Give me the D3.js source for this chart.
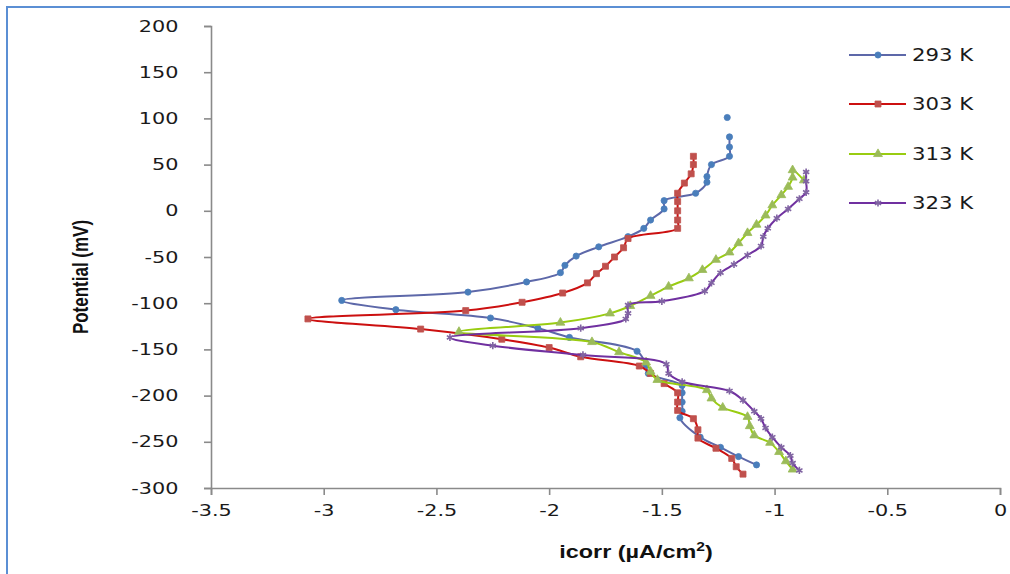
<!DOCTYPE html>
<html>
<head>
<meta charset="utf-8">
<script src="https://cdn.jsdelivr.net/npm/d3@7"></script>
<style>
  body { margin: 0; background: #fff; }
  svg { display: block; }
</style>
</head>
<body>
<div class="chart"></div>
<script>

// icorr (log, uA/cm2) vs potential (mV)
// null = gap in the line
var s293 = [
  [-1.21, 101], null,
  [-1.20, 80], [-1.20, 69], [-1.20, 59], [-1.28, 50], [-1.30, 37], [-1.30, 31],
  [-1.35, 19], [-1.49, 11], [-1.49, 2], [-1.55, -10], [-1.58, -19], [-1.65, -28],
  [-1.78, -39], [-1.88, -49], [-1.93, -59], [-1.95, -67], [-2.10, -77], [-2.36, -88],
  [-2.92, -97], [-2.68, -107], [-2.26, -116], [-2.05, -127], [-1.91, -137],
  [-1.61, -152], [-1.57, -167], [-1.56, -176], [-1.41, -189], [-1.41, -197],
  [-1.41, -207], [-1.41, -217], [-1.42, -224], [-1.33, -245], [-1.24, -256],
  [-1.16, -266], [-1.08, -275]
];

var s303 = [
  [-1.36, 59], [-1.36, 50], [-1.37, 40], [-1.40, 30], [-1.43, 19], [-1.43, 10],
  [-1.43, 0], [-1.43, -10], [-1.43, -19], [-1.65, -30], [-1.67, -40], [-1.71, -50],
  [-1.75, -60], [-1.79, -68], [-1.83, -78], [-1.94, -89], [-2.12, -99], [-2.37, -108],
  [-3.07, -117], [-2.57, -128], [-2.21, -139], [-2.00, -148], [-1.86, -158],
  [-1.60, -168], [-1.55, -176], [-1.49, -187], [-1.43, -197], [-1.43, -207],
  [-1.43, -216], [-1.36, -225], [-1.34, -237], [-1.34, -246], [-1.26, -257],
  [-1.19, -268], [-1.17, -277], [-1.14, -285]
];

var s313 = [
  [-0.87, 33], [-0.92, 44], [-0.92, 36], [-0.94, 26], [-0.97, 17], [-1.01, 6],
  [-1.04, -5], [-1.08, -15], [-1.12, -24], [-1.16, -35], [-1.20, -45], [-1.26, -53],
  [-1.32, -64], [-1.38, -73], [-1.47, -82], [-1.55, -92], [-1.64, -103], [-1.73, -111],
  [-1.95, -121], [-2.40, -131], [-1.81, -142], [-1.69, -153], [-1.57, -164],
  [-1.55, -174], [-1.52, -183], [-1.30, -194], [-1.28, -203], [-1.23, -213],
  [-1.12, -223], [-1.11, -233], [-1.09, -243], [-1.02, -251], [-0.98, -261],
  [-0.95, -271], [-0.92, -280]
];

var s323 = [
  [-0.86, 42], [-0.86, 32], [-0.86, 20], [-0.89, 13], [-0.94, 2], [-0.99, -8],
  [-1.03, -19], [-1.05, -28], [-1.06, -38], [-1.12, -48], [-1.18, -58], [-1.24, -67],
  [-1.28, -78], [-1.31, -87], [-1.50, -98], [-1.65, -102], [-1.65, -111], [-1.66, -117],
  [-1.86, -127], [-2.44, -137], [-2.25, -146], [-1.85, -156], [-1.48, -166],
  [-1.47, -176], [-1.41, -185], [-1.20, -195], [-1.14, -205], [-1.09, -217],
  [-1.06, -225], [-1.04, -235], [-1.01, -245], [-0.97, -256], [-0.93, -265],
  [-0.92, -273], [-0.89, -281]
];

var seriesNames = ['293 K', '303 K', '313 K', '323 K'];
var xTicks = [-3.5, -3, -2.5, -2, -1.5, -1, -0.5, 0];
var yTicks = [200, 150, 100, 50, 0, -50, -100, -150, -200, -250, -300];

var allSeries = [s293, s303, s313, s323];
var lineColors = ['#5d68a9', '#cc1010', '#99cc11', '#7030a0'];
var markColors = ['#4a7ebb', '#c0504d', '#9bbb59', '#8064a2'];
var markTypes = [d3.symbolCircle, d3.symbolSquare, d3.symbolTriangle, d3.symbolAsterisk];
var markSizes = [30, 36, 34, 36];

var W = 1010, H = 574;
var margin = { top: 26, right: 10, bottom: 86, left: 211 };
var width = 1000 - margin.left;
var height = 488 - margin.top;

var svg = d3.select('.chart')
  .append('svg')
  .attr('width', W)
  .attr('height', H);

// chart area frame
svg.append('rect')
  .attr('x', 7).attr('y', 7)
  .attr('width', 1020).attr('height', 590)
  .style('fill', 'none')
  .style('stroke', '#5b8fd4')
  .style('stroke-width', 2);

var g = svg.append('g')
  .attr('transform', 'translate(' + margin.left + ',' + margin.top + ')');

var xScale = d3.scaleLinear().domain([-3.5, 0]).range([0, width]);
var yScale = d3.scaleLinear().domain([-300, 200]).range([height, 0]);

var tickFont = 'DejaVu Sans, Verdana, sans-serif';

var xAxis = g.append('g')
  .attr('transform', 'translate(0,' + height + ')')
  .call(d3.axisBottom(xScale).tickValues(xTicks).tickSize(7).tickFormat(d => String(d)));

var yAxis = g.append('g')
  .call(d3.axisLeft(yScale).tickValues(yTicks).tickSize(7).tickFormat(d => String(d)));

[xAxis, yAxis].forEach(function(ax) {
  ax.select('.domain').style('stroke', '#8a8a8a').style('stroke-width', 1.6);
  ax.selectAll('.tick line').style('stroke', '#8a8a8a').style('stroke-width', 1.6);
  ax.selectAll('.tick text')
    .style('font-family', tickFont)
    .style('font-size', '16px')
    .style('fill', '#1a1a1a');
});
xAxis.selectAll('.tick text').attr('y', 17).attr('dy', '0.71em')
  .attr('transform', 'scale(1.3,1)');
yAxis.selectAll('.tick text').attr('x', -25)
  .attr('transform', 'scale(1.3,1)');

// axis titles
svg.append('text')
  .attr('transform', 'translate(636,558) scale(1.3,1)')
  .style('text-anchor', 'middle')
  .style('font-family', 'Liberation Sans, Arial, sans-serif')
  .style('font-weight', 'bold')
  .style('font-size', '18px')
  .style('fill', '#111')
  .html('icorr (µA/cm<tspan dy="-7" font-size="12px">2</tspan><tspan dy="7">)</tspan>');

svg.append('text')
  .attr('transform', 'translate(88,277) rotate(-90) scale(1,1.25)')
  .style('text-anchor', 'middle')
  .style('font-family', 'Liberation Sans, Arial, sans-serif')
  .style('font-weight', 'bold')
  .style('font-size', '17px')
  .style('fill', '#111')
  .text('Potential (mV)');

var line = d3.line()
  .defined(d => d !== null)
  .x(d => xScale(d[0]))
  .y(d => yScale(d[1]))
  .curve(d3.curveCatmullRom.alpha(0.5));

function drawMarks(sel, i) {
  var sym = d3.symbol().type(markTypes[i]).size(markSizes[i]);
  if (i === 3) {
    sel.attr('d', sym)
      .style('fill', 'none')
      .style('stroke', markColors[i])
      .style('stroke-width', 1.6);
  } else {
    sel.attr('d', sym)
      .style('fill', markColors[i])
      .style('stroke', markColors[i])
      .style('stroke-width', 0.8);
  }
}

allSeries.forEach(function(data, i) {
  g.append('path')
    .attr('class', 'line')
    .attr('d', line(data))
    .style('fill', 'none')
    .style('stroke', lineColors[i])
    .style('stroke-width', 2)
    .style('stroke-linejoin', 'round');

  g.selectAll('.dot' + i)
    .data(data.filter(d => d !== null))
    .enter()
    .append('path')
    .attr('class', 'dot' + i)
    .attr('transform', d => 'translate(' + xScale(d[0]) + ',' + yScale(d[1]) + ')')
    .call(drawMarks, i);
});

// legend
var legendY = [55, 104, 154, 203];
seriesNames.forEach(function(name, i) {
  var lg = svg.append('g').attr('transform', 'translate(849,' + legendY[i] + ')');
  lg.append('line')
    .attr('x1', 0).attr('x2', 57)
    .style('stroke', lineColors[i])
    .style('stroke-width', 2);
  lg.append('path')
    .attr('transform', 'translate(29,0)')
    .call(drawMarks, i);
  lg.append('text')
    .attr('transform', 'translate(63,0) scale(1.25,1)')
    .attr('dy', '0.36em')
    .style('font-family', tickFont)
    .style('font-size', '17px')
    .style('fill', '#1a1a1a')
    .text(name);
});

</script>
</body>
</html>
